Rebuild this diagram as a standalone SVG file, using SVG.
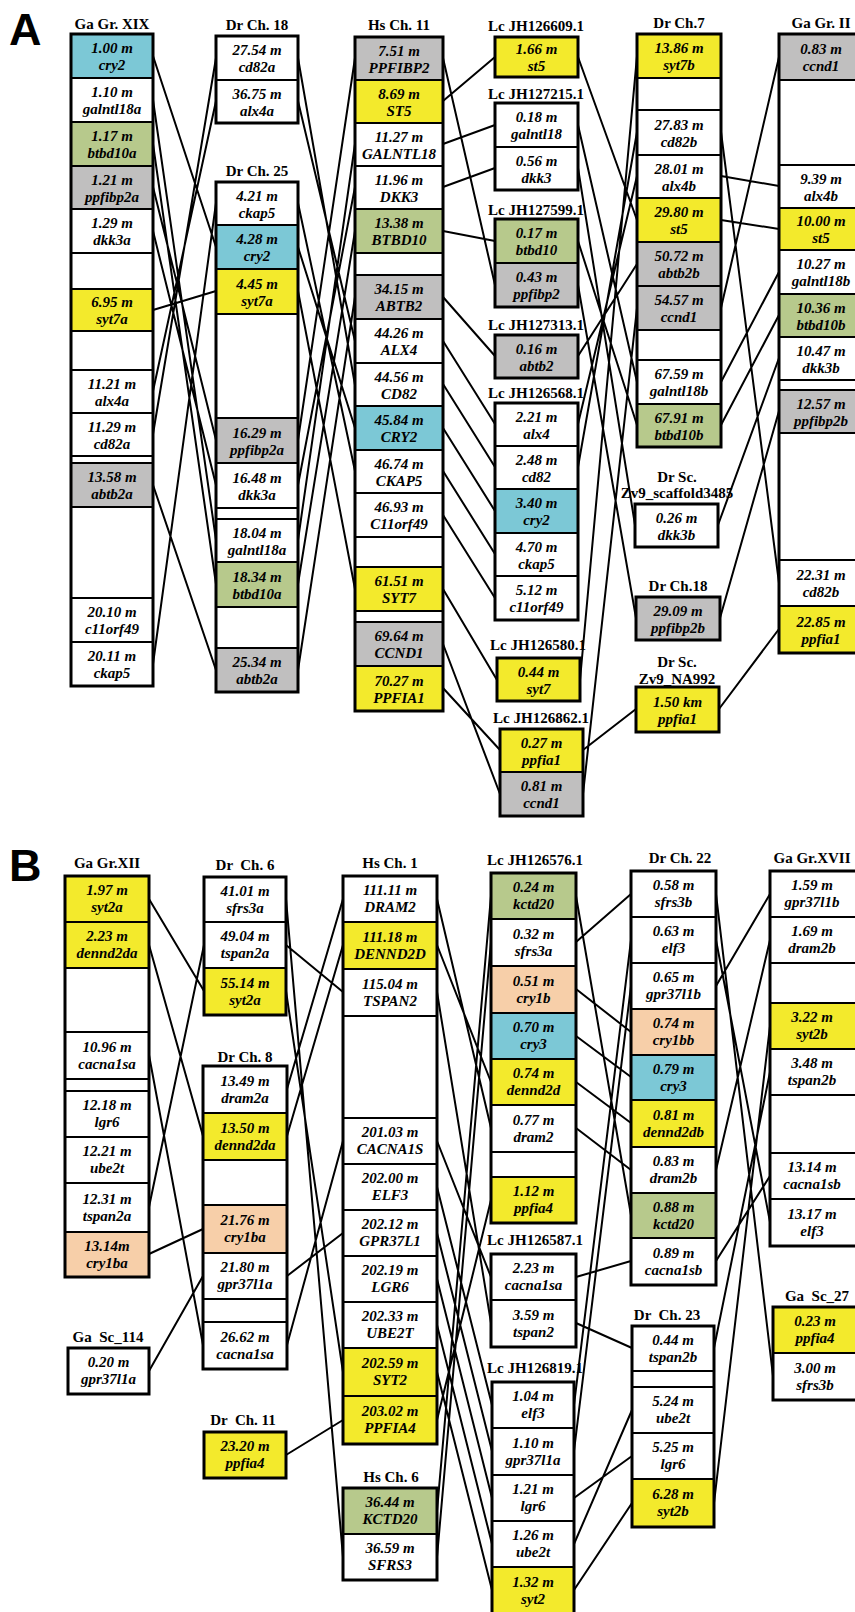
<svg xmlns="http://www.w3.org/2000/svg" width="855" height="1612" viewBox="0 0 855 1612">
<style>
rect{stroke:#000;stroke-width:2}
rect.bg{fill:#fff;stroke:none}
.w{fill:#fff}.y{fill:#F3EA2C}.c{fill:#7CC8D6}.g{fill:#B7C98C}.s{fill:#C0BFBF}.p{fill:#F7CFA9}
.o{fill:none;stroke:#000;stroke-width:3}
.t{font-family:"Liberation Serif",serif;font-weight:bold;font-style:italic;font-size:15px;text-anchor:middle}
.h{font-family:"Liberation Serif",serif;font-weight:bold;font-size:15px;text-anchor:middle;white-space:pre}
.L{font-family:"Liberation Sans",Arial,sans-serif;font-weight:bold;font-size:45px}
#conn path{fill:none;stroke:#000;stroke-width:2}
</style>
<rect class="bg" x="0" y="0" width="855" height="1612"/>
<text class="L" x="9" y="45">A</text>
<text class="L" x="9" y="881">B</text>

<g id="conn">
<path d="M153 56L216 247M153 100L216 540M153 144L216 584M153 187L216 440M153 231L216 485M153 310L216 291M153 391L216 101M153 434L216 58M153 485L216 670M153 664L216 203
M298 58L355 385M298 101L355 341M298 203L355 471M298 247L355 428M298 291L355 589M298 440L355 58M298 485L355 187M298 540L355 144M298 584L355 231M298 670L355 297
M443 58L495 285M443 101L495 57M443 144L495 125M443 187L495 168M443 231L495 241M443 297L495 356M443 341L495 424M443 384L495 467M443 428L495 511M443 471L495 554M443 515L495 598M443 589L497 680M443 644L500 794M443 688L500 750
M578 57L637 220M578 125L637 382M578 168L635 525M578 241L637 425M578 285L636 618M578 356L637 264M578 424L637 176M578 467L637 132M580 680L637 56M583 750L636 709M583 794L637 308
M721 308L779 57M721 176L779 186M721 220L779 229M721 382L779 272M721 425L779 315M721 132L779 583M718 525L779 358M720 618L779 411M719 709L779 629"/>
<path d="M149 899L204 991M149 945L203 1136M149 1055L203 1345M149 1207L204 945M149 1254L203 1229M149 1371L203 1276
M286 899L343 1557M286 945L343 992M286 991L343 1372M287 1089L343 899M287 1136L343 945M287 1276L343 1233M287 1345L343 1141M286 1455L343 1420
M437 899L491 1128M437 945L491 1082M437 992L491 1323M437 1141L491 1277M437 1187L492 1405M437 1233L492 1451M437 1279L492 1498M437 1325L492 1544M437 1372L492 1590M437 1420L491 1200M437 1511L491 896M437 1557L491 942
M576 896L631 1215M576 942L631 894M576 989L631 1032M576 1036L631 1077M576 1082L631 1123M576 1128L631 1170M576 1277L631 1261M576 1323L632 1348M574 1405L631 940M574 1451L631 986M574 1498L632 1456M574 1544L632 1410M574 1590L632 1503
M716 894L773 1376M716 940L770 1222M716 986L770 894M716 1170L770 940M716 1261L770 1176M714 1348L770 1072M714 1503L770 1026"/>
</g>

<!-- Panel A -->
<g id="ga-gr-xix">
<text class="h" x="112" y="29">Ga Gr. XIX</text>
<rect class="c" x="71" y="34" width="82" height="44"/><text class="t" x="112" y="53">1.00 m<tspan x="112" dy="17">cry2</tspan></text>
<rect class="w" x="71" y="78" width="82" height="44"/><text class="t" x="112" y="97">1.10 m<tspan x="112" dy="17">galntl18a</tspan></text>
<rect class="g" x="71" y="122" width="82" height="44"/><text class="t" x="112" y="141">1.17 m<tspan x="112" dy="17">btbd10a</tspan></text>
<rect class="s" x="71" y="166" width="82" height="43"/><text class="t" x="112" y="184.5">1.21 m<tspan x="112" dy="17">ppfibp2a</tspan></text>
<rect class="w" x="71" y="209" width="82" height="44"/><text class="t" x="112" y="228">1.29 m<tspan x="112" dy="17">dkk3a</tspan></text>
<rect class="w" x="71" y="253" width="82" height="36"/>
<rect class="y" x="71" y="289" width="82" height="42"/><text class="t" x="112" y="307">6.95 m<tspan x="112" dy="17">syt7a</tspan></text>
<rect class="w" x="71" y="331" width="82" height="39"/>
<rect class="w" x="71" y="370" width="82" height="43"/><text class="t" x="112" y="388.5">11.21 m<tspan x="112" dy="17">alx4a</tspan></text>
<rect class="w" x="71" y="413" width="82" height="43"/><text class="t" x="112" y="431.5">11.29 m<tspan x="112" dy="17">cd82a</tspan></text>
<rect class="w" x="71" y="456" width="82" height="7"/>
<rect class="s" x="71" y="463" width="82" height="44"/><text class="t" x="112" y="482">13.58 m<tspan x="112" dy="17">abtb2a</tspan></text>
<rect class="w" x="71" y="507" width="82" height="91"/>
<rect class="w" x="71" y="598" width="82" height="44"/><text class="t" x="112" y="617">20.10 m<tspan x="112" dy="17">c11orf49</tspan></text>
<rect class="w" x="71" y="642" width="82" height="44"/><text class="t" x="112" y="661">20.11 m<tspan x="112" dy="17">ckap5</tspan></text>
<rect class="o" x="71" y="34" width="82" height="652"/>
</g>

<g id="dr-ch-18">
<text class="h" x="257" y="30">Dr Ch. 18</text>
<rect class="w" x="216" y="36" width="82" height="44"/><text class="t" x="257" y="55">27.54 m<tspan x="257" dy="17">cd82a</tspan></text>
<rect class="w" x="216" y="80" width="82" height="43"/><text class="t" x="257" y="98.5">36.75 m<tspan x="257" dy="17">alx4a</tspan></text>
<rect class="o" x="216" y="36" width="82" height="87"/>
</g>

<g id="dr-ch-25">
<text class="h" x="257" y="176">Dr Ch. 25</text>
<rect class="w" x="216" y="182" width="82" height="43"/><text class="t" x="257" y="200.5">4.21 m<tspan x="257" dy="17">ckap5</tspan></text>
<rect class="c" x="216" y="225" width="82" height="44"/><text class="t" x="257" y="244">4.28 m<tspan x="257" dy="17">cry2</tspan></text>
<rect class="y" x="216" y="269" width="82" height="45"/><text class="t" x="257" y="288.5">4.45 m<tspan x="257" dy="17">syt7a</tspan></text>
<rect class="w" x="216" y="314" width="82" height="104"/>
<rect class="s" x="216" y="418" width="82" height="45"/><text class="t" x="257" y="437.5">16.29 m<tspan x="257" dy="17">ppfibp2a</tspan></text>
<rect class="w" x="216" y="463" width="82" height="45"/><text class="t" x="257" y="482.5">16.48 m<tspan x="257" dy="17">dkk3a</tspan></text>
<rect class="w" x="216" y="508" width="82" height="11"/>
<rect class="w" x="216" y="519" width="82" height="43"/><text class="t" x="257" y="537.5">18.04 m<tspan x="257" dy="17">galntl18a</tspan></text>
<rect class="g" x="216" y="562" width="82" height="45"/><text class="t" x="257" y="581.5">18.34 m<tspan x="257" dy="17">btbd10a</tspan></text>
<rect class="w" x="216" y="607" width="82" height="41"/>
<rect class="s" x="216" y="648" width="82" height="44"/><text class="t" x="257" y="667">25.34 m<tspan x="257" dy="17">abtb2a</tspan></text>
<rect class="o" x="216" y="182" width="82" height="510"/>
</g>

<g id="hs-ch-11">
<text class="h" x="399" y="30">Hs Ch. 11</text>
<rect class="s" x="355" y="37" width="88" height="43"/><text class="t" x="399" y="55.5">7.51 m<tspan x="399" dy="17">PPFIBP2</tspan></text>
<rect class="y" x="355" y="80" width="88" height="43"/><text class="t" x="399" y="98.5">8.69 m<tspan x="399" dy="17">ST5</tspan></text>
<rect class="w" x="355" y="123" width="88" height="43"/><text class="t" x="399" y="141.5">11.27 m<tspan x="399" dy="17">GALNTL18</tspan></text>
<rect class="w" x="355" y="166" width="88" height="43"/><text class="t" x="399" y="184.5">11.96 m<tspan x="399" dy="17">DKK3</tspan></text>
<rect class="g" x="355" y="209" width="88" height="44"/><text class="t" x="399" y="228">13.38 m<tspan x="399" dy="17">BTBD10</tspan></text>
<rect class="w" x="355" y="253" width="88" height="22"/>
<rect class="s" x="355" y="275" width="88" height="44"/><text class="t" x="399" y="294">34.15 m<tspan x="399" dy="17">ABTB2</tspan></text>
<rect class="w" x="355" y="319" width="88" height="44"/><text class="t" x="399" y="338">44.26 m<tspan x="399" dy="17">ALX4</tspan></text>
<rect class="w" x="355" y="363" width="88" height="43"/><text class="t" x="399" y="381.5">44.56 m<tspan x="399" dy="17">CD82</tspan></text>
<rect class="c" x="355" y="406" width="88" height="44"/><text class="t" x="399" y="425">45.84 m<tspan x="399" dy="17">CRY2</tspan></text>
<rect class="w" x="355" y="450" width="88" height="43"/><text class="t" x="399" y="468.5">46.74 m<tspan x="399" dy="17">CKAP5</tspan></text>
<rect class="w" x="355" y="493" width="88" height="44"/><text class="t" x="399" y="512">46.93 m<tspan x="399" dy="17">C11orf49</tspan></text>
<rect class="w" x="355" y="537" width="88" height="30"/>
<rect class="y" x="355" y="567" width="88" height="44"/><text class="t" x="399" y="586">61.51 m<tspan x="399" dy="17">SYT7</tspan></text>
<rect class="w" x="355" y="611" width="88" height="11"/>
<rect class="s" x="355" y="622" width="88" height="44"/><text class="t" x="399" y="641">69.64 m<tspan x="399" dy="17">CCND1</tspan></text>
<rect class="y" x="355" y="666" width="88" height="45"/><text class="t" x="399" y="685.5">70.27 m<tspan x="399" dy="17">PPFIA1</tspan></text>
<rect class="o" x="355" y="37" width="88" height="674"/>
</g>

<g id="lc-jh126609">
<text class="h" x="536" y="31">Lc JH126609.1</text>
<rect class="y" x="495" y="37" width="83" height="40"/><text class="t" x="536.5" y="54">1.66 m<tspan x="536.5" dy="17">st5</tspan></text>
<rect class="o" x="495" y="37" width="83" height="40"/>
</g>
<g id="lc-jh127215">
<text class="h" x="536" y="99">Lc JH127215.1</text>
<rect class="w" x="495" y="103" width="83" height="44"/><text class="t" x="536.5" y="122">0.18 m<tspan x="536.5" dy="17">galntl18</tspan></text>
<rect class="w" x="495" y="147" width="83" height="43"/><text class="t" x="536.5" y="165.5">0.56 m<tspan x="536.5" dy="17">dkk3</tspan></text>
<rect class="o" x="495" y="103" width="83" height="87"/>
</g>
<g id="lc-jh127599">
<text class="h" x="536" y="215">Lc JH127599.1</text>
<rect class="g" x="495" y="219" width="83" height="44"/><text class="t" x="536.5" y="238">0.17 m<tspan x="536.5" dy="17">btbd10</tspan></text>
<rect class="s" x="495" y="263" width="83" height="44"/><text class="t" x="536.5" y="282">0.43 m<tspan x="536.5" dy="17">ppfibp2</tspan></text>
<rect class="o" x="495" y="219" width="83" height="88"/>
</g>
<g id="lc-jh127313">
<text class="h" x="536" y="330">Lc JH127313.1</text>
<rect class="s" x="495" y="335" width="83" height="43"/><text class="t" x="536.5" y="353.5">0.16 m<tspan x="536.5" dy="17">abtb2</tspan></text>
<rect class="o" x="495" y="335" width="83" height="43"/>
</g>
<g id="lc-jh126568">
<text class="h" x="536" y="398">Lc JH126568.1</text>
<rect class="w" x="495" y="403" width="83" height="43"/><text class="t" x="536.5" y="421.5">2.21 m<tspan x="536.5" dy="17">alx4</tspan></text>
<rect class="w" x="495" y="446" width="83" height="43"/><text class="t" x="536.5" y="464.5">2.48 m<tspan x="536.5" dy="17">cd82</tspan></text>
<rect class="c" x="495" y="489" width="83" height="44"/><text class="t" x="536.5" y="508">3.40 m<tspan x="536.5" dy="17">cry2</tspan></text>
<rect class="w" x="495" y="533" width="83" height="43"/><text class="t" x="536.5" y="551.5">4.70 m<tspan x="536.5" dy="17">ckap5</tspan></text>
<rect class="w" x="495" y="576" width="83" height="44"/><text class="t" x="536.5" y="595">5.12 m<tspan x="536.5" dy="17">c11orf49</tspan></text>
<rect class="o" x="495" y="403" width="83" height="217"/>
</g>
<g id="lc-jh126580">
<text class="h" x="538" y="650">Lc JH126580.1</text>
<rect class="y" x="497" y="658" width="83" height="43"/><text class="t" x="538.5" y="676.5">0.44 m<tspan x="538.5" dy="17">syt7</tspan></text>
<rect class="o" x="497" y="658" width="83" height="43"/>
</g>
<g id="lc-jh126862">
<text class="h" x="541" y="723">Lc JH126862.1</text>
<rect class="y" x="500" y="729" width="83" height="43"/><text class="t" x="541.5" y="747.5">0.27 m<tspan x="541.5" dy="17">ppfia1</tspan></text>
<rect class="s" x="500" y="772" width="83" height="44"/><text class="t" x="541.5" y="791">0.81 m<tspan x="541.5" dy="17">ccnd1</tspan></text>
<rect class="o" x="500" y="729" width="83" height="87"/>
</g>

<g id="dr-ch-7">
<text class="h" x="679" y="28">Dr Ch.7</text>
<rect class="y" x="637" y="34" width="84" height="44"/><text class="t" x="679" y="53">13.86 m<tspan x="679" dy="17">syt7b</tspan></text>
<rect class="w" x="637" y="78" width="84" height="32"/>
<rect class="w" x="637" y="110" width="84" height="45"/><text class="t" x="679" y="129.5">27.83 m<tspan x="679" dy="17">cd82b</tspan></text>
<rect class="w" x="637" y="155" width="84" height="43"/><text class="t" x="679" y="173.5">28.01 m<tspan x="679" dy="17">alx4b</tspan></text>
<rect class="y" x="637" y="198" width="84" height="44"/><text class="t" x="679" y="217">29.80 m<tspan x="679" dy="17">st5</tspan></text>
<rect class="s" x="637" y="242" width="84" height="44"/><text class="t" x="679" y="261">50.72 m<tspan x="679" dy="17">abtb2b</tspan></text>
<rect class="s" x="637" y="286" width="84" height="44"/><text class="t" x="679" y="305">54.57 m<tspan x="679" dy="17">ccnd1</tspan></text>
<rect class="w" x="637" y="330" width="84" height="30"/>
<rect class="w" x="637" y="360" width="84" height="44"/><text class="t" x="679" y="379">67.59 m<tspan x="679" dy="17">galntl18b</tspan></text>
<rect class="g" x="637" y="404" width="84" height="43"/><text class="t" x="679" y="422.5">67.91 m<tspan x="679" dy="17">btbd10b</tspan></text>
<rect class="o" x="637" y="34" width="84" height="413"/>
</g>

<g id="dr-sc-3485">
<text class="h" x="677" y="482">Dr Sc.</text>
<text class="h" x="677" y="498">Zv9_scaffold3485</text>
<rect class="w" x="635" y="504" width="83" height="43"/><text class="t" x="676.5" y="522.5">0.26 m<tspan x="676.5" dy="17">dkk3b</tspan></text>
<rect class="o" x="635" y="504" width="83" height="43"/>
</g>
<g id="dr-ch-18b">
<text class="h" x="678" y="591">Dr Ch.18</text>
<rect class="s" x="636" y="597" width="84" height="43"/><text class="t" x="678" y="615.5">29.09 m<tspan x="678" dy="17">ppfibp2b</tspan></text>
<rect class="o" x="636" y="597" width="84" height="43"/>
</g>
<g id="dr-sc-na992">
<text class="h" x="677" y="667">Dr Sc.</text>
<text class="h" x="677" y="684">Zv9_NA992</text>
<rect class="y" x="636" y="687" width="83" height="45"/><text class="t" x="677.5" y="706.5">1.50 km<tspan x="677.5" dy="17">ppfia1</tspan></text>
<rect class="o" x="636" y="687" width="83" height="45"/>
</g>

<g id="ga-gr-ii">
<text class="h" x="821" y="28">Ga Gr. II</text>
<rect class="s" x="779" y="34" width="84" height="46"/><text class="t" x="821" y="54">0.83 m<tspan x="821" dy="17">ccnd1</tspan></text>
<rect class="w" x="779" y="80" width="84" height="85"/>
<rect class="w" x="779" y="165" width="84" height="43"/><text class="t" x="821" y="183.5">9.39 m<tspan x="821" dy="17">alx4b</tspan></text>
<rect class="y" x="779" y="208" width="84" height="42"/><text class="t" x="821" y="226">10.00 m<tspan x="821" dy="17">st5</tspan></text>
<rect class="w" x="779" y="250" width="84" height="44"/><text class="t" x="821" y="269">10.27 m<tspan x="821" dy="17">galntl18b</tspan></text>
<rect class="g" x="779" y="294" width="84" height="43"/><text class="t" x="821" y="312.5">10.36 m<tspan x="821" dy="17">btbd10b</tspan></text>
<rect class="w" x="779" y="337" width="84" height="43"/><text class="t" x="821" y="355.5">10.47 m<tspan x="821" dy="17">dkk3b</tspan></text>
<rect class="w" x="779" y="380" width="84" height="10"/>
<rect class="s" x="779" y="390" width="84" height="43"/><text class="t" x="821" y="408.5">12.57 m<tspan x="821" dy="17">ppfibp2b</tspan></text>
<rect class="w" x="779" y="433" width="84" height="127"/>
<rect class="w" x="779" y="560" width="84" height="46"/><text class="t" x="821" y="580">22.31 m<tspan x="821" dy="17">cd82b</tspan></text>
<rect class="y" x="779" y="606" width="84" height="47"/><text class="t" x="821" y="626.5">22.85 m<tspan x="821" dy="17">ppfia1</tspan></text>
<rect class="o" x="779" y="34" width="84" height="619"/>
</g>

<!-- Panel B -->
<g id="ga-gr-xii">
<text class="h" x="107" y="868">Ga Gr.XII</text>
<rect class="y" x="65" y="876" width="84" height="46"/><text class="t" x="107" y="895">1.97 m<tspan x="107" dy="17">syt2a</tspan></text>
<rect class="y" x="65" y="922" width="84" height="46"/><text class="t" x="107" y="941">2.23 m<tspan x="107" dy="17">dennd2da</tspan></text>
<rect class="w" x="65" y="968" width="84" height="64"/>
<rect class="w" x="65" y="1032" width="84" height="47"/><text class="t" x="107" y="1051.5">10.96 m<tspan x="107" dy="17">cacna1sa</tspan></text>
<rect class="w" x="65" y="1079" width="84" height="12"/>
<rect class="w" x="65" y="1091" width="84" height="46"/><text class="t" x="107" y="1110">12.18 m<tspan x="107" dy="17">lgr6</tspan></text>
<rect class="w" x="65" y="1137" width="84" height="46"/><text class="t" x="107" y="1156">12.21 m<tspan x="107" dy="17">ube2t</tspan></text>
<rect class="w" x="65" y="1183" width="84" height="49"/><text class="t" x="107" y="1203.5">12.31 m<tspan x="107" dy="17">tspan2a</tspan></text>
<rect class="p" x="65" y="1232" width="84" height="45"/><text class="t" x="107" y="1250.5">13.14m<tspan x="107" dy="17">cry1ba</tspan></text>
<rect class="o" x="65" y="876" width="84" height="401"/>
</g>
<g id="ga-sc-114">
<text class="h" x="108" y="1342">Ga  Sc_114</text>
<rect class="w" x="68" y="1348" width="81" height="46"/><text class="t" x="108.5" y="1367">0.20 m<tspan x="108.5" dy="17">gpr37l1a</tspan></text>
<rect class="o" x="68" y="1348" width="81" height="46"/>
</g>

<g id="dr-ch-6">
<text class="h" x="245" y="870">Dr  Ch. 6</text>
<rect class="w" x="204" y="877" width="82" height="45"/><text class="t" x="245" y="895.5">41.01 m<tspan x="245" dy="17">sfrs3a</tspan></text>
<rect class="w" x="204" y="922" width="82" height="46"/><text class="t" x="245" y="941">49.04 m<tspan x="245" dy="17">tspan2a</tspan></text>
<rect class="y" x="204" y="968" width="82" height="47"/><text class="t" x="245" y="987.5">55.14 m<tspan x="245" dy="17">syt2a</tspan></text>
<rect class="o" x="204" y="877" width="82" height="138"/>
</g>
<g id="dr-ch-8">
<text class="h" x="245" y="1062">Dr Ch. 8</text>
<rect class="w" x="203" y="1066" width="84" height="47"/><text class="t" x="245" y="1085.5">13.49 m<tspan x="245" dy="17">dram2a</tspan></text>
<rect class="y" x="203" y="1113" width="84" height="47"/><text class="t" x="245" y="1132.5">13.50 m<tspan x="245" dy="17">dennd2da</tspan></text>
<rect class="w" x="203" y="1160" width="84" height="45"/>
<rect class="p" x="203" y="1205" width="84" height="48"/><text class="t" x="245" y="1225">21.76 m<tspan x="245" dy="17">cry1ba</tspan></text>
<rect class="w" x="203" y="1253" width="84" height="46"/><text class="t" x="245" y="1272">21.80 m<tspan x="245" dy="17">gpr37l1a</tspan></text>
<rect class="w" x="203" y="1299" width="84" height="23"/>
<rect class="w" x="203" y="1322" width="84" height="47"/><text class="t" x="245" y="1341.5">26.62 m<tspan x="245" dy="17">cacna1sa</tspan></text>
<rect class="o" x="203" y="1066" width="84" height="303"/>
</g>
<g id="dr-ch-11">
<text class="h" x="243" y="1425">Dr  Ch. 11</text>
<rect class="y" x="204" y="1432" width="82" height="46"/><text class="t" x="245" y="1451">23.20 m<tspan x="245" dy="17">ppfia4</tspan></text>
<rect class="o" x="204" y="1432" width="82" height="46"/>
</g>

<g id="hs-ch-1">
<text class="h" x="390" y="868">Hs Ch. 1</text>
<rect class="w" x="343" y="876" width="94" height="46"/><text class="t" x="390" y="895">111.11 m<tspan x="390" dy="17">DRAM2</tspan></text>
<rect class="y" x="343" y="922" width="94" height="47"/><text class="t" x="390" y="941.5">111.18 m<tspan x="390" dy="17">DENND2D</tspan></text>
<rect class="w" x="343" y="969" width="94" height="47"/><text class="t" x="390" y="988.5">115.04 m<tspan x="390" dy="17">TSPAN2</tspan></text>
<rect class="w" x="343" y="1016" width="94" height="102"/>
<rect class="w" x="343" y="1118" width="94" height="46"/><text class="t" x="390" y="1137">201.03 m<tspan x="390" dy="17">CACNA1S</tspan></text>
<rect class="w" x="343" y="1164" width="94" height="46"/><text class="t" x="390" y="1183">202.00 m<tspan x="390" dy="17">ELF3</tspan></text>
<rect class="w" x="343" y="1210" width="94" height="46"/><text class="t" x="390" y="1229">202.12 m<tspan x="390" dy="17">GPR37L1</tspan></text>
<rect class="w" x="343" y="1256" width="94" height="46"/><text class="t" x="390" y="1275">202.19 m<tspan x="390" dy="17">LGR6</tspan></text>
<rect class="w" x="343" y="1302" width="94" height="46"/><text class="t" x="390" y="1321">202.33 m<tspan x="390" dy="17">UBE2T</tspan></text>
<rect class="y" x="343" y="1348" width="94" height="48"/><text class="t" x="390" y="1368">202.59 m<tspan x="390" dy="17">SYT2</tspan></text>
<rect class="y" x="343" y="1396" width="94" height="48"/><text class="t" x="390" y="1416">203.02 m<tspan x="390" dy="17">PPFIA4</tspan></text>
<rect class="o" x="343" y="876" width="94" height="568"/>
</g>
<g id="hs-ch-6">
<text class="h" x="391" y="1482">Hs Ch. 6</text>
<rect class="g" x="343" y="1488" width="94" height="46"/><text class="t" x="390" y="1507">36.44 m<tspan x="390" dy="17">KCTD20</tspan></text>
<rect class="w" x="343" y="1534" width="94" height="46"/><text class="t" x="390" y="1553">36.59 m<tspan x="390" dy="17">SFRS3</tspan></text>
<rect class="o" x="343" y="1488" width="94" height="92"/>
</g>

<g id="lc-jh126576">
<text class="h" x="535" y="865">Lc JH126576.1</text>
<rect class="g" x="491" y="873" width="85" height="46"/><text class="t" x="533.5" y="892">0.24 m<tspan x="533.5" dy="17">kctd20</tspan></text>
<rect class="w" x="491" y="919" width="85" height="47"/><text class="t" x="533.5" y="938.5">0.32 m<tspan x="533.5" dy="17">sfrs3a</tspan></text>
<rect class="p" x="491" y="966" width="85" height="47"/><text class="t" x="533.5" y="985.5">0.51 m<tspan x="533.5" dy="17">cry1b</tspan></text>
<rect class="c" x="491" y="1013" width="85" height="46"/><text class="t" x="533.5" y="1032">0.70 m<tspan x="533.5" dy="17">cry3</tspan></text>
<rect class="y" x="491" y="1059" width="85" height="46"/><text class="t" x="533.5" y="1078">0.74 m<tspan x="533.5" dy="17">dennd2d</tspan></text>
<rect class="w" x="491" y="1105" width="85" height="47"/><text class="t" x="533.5" y="1124.5">0.77 m<tspan x="533.5" dy="17">dram2</tspan></text>
<rect class="w" x="491" y="1152" width="85" height="25"/>
<rect class="y" x="491" y="1177" width="85" height="46"/><text class="t" x="533.5" y="1196">1.12 m<tspan x="533.5" dy="17">ppfia4</tspan></text>
<rect class="o" x="491" y="873" width="85" height="350"/>
</g>
<g id="lc-jh126587">
<text class="h" x="535" y="1245">Lc JH126587.1</text>
<rect class="w" x="491" y="1254" width="85" height="46"/><text class="t" x="533.5" y="1273">2.23 m<tspan x="533.5" dy="17">cacna1sa</tspan></text>
<rect class="w" x="491" y="1300" width="85" height="47"/><text class="t" x="533.5" y="1319.5">3.59 m<tspan x="533.5" dy="17">tspan2</tspan></text>
<rect class="o" x="491" y="1254" width="85" height="93"/>
</g>
<g id="lc-jh126819">
<text class="h" x="535" y="1373">Lc JH126819.1</text>
<rect class="w" x="492" y="1382" width="82" height="46"/><text class="t" x="533" y="1401">1.04 m<tspan x="533" dy="17">elf3</tspan></text>
<rect class="w" x="492" y="1428" width="82" height="47"/><text class="t" x="533" y="1447.5">1.10 m<tspan x="533" dy="17">gpr37l1a</tspan></text>
<rect class="w" x="492" y="1475" width="82" height="46"/><text class="t" x="533" y="1494">1.21 m<tspan x="533" dy="17">lgr6</tspan></text>
<rect class="w" x="492" y="1521" width="82" height="46"/><text class="t" x="533" y="1540">1.26 m<tspan x="533" dy="17">ube2t</tspan></text>
<rect class="y" x="492" y="1567" width="82" height="47"/><text class="t" x="533" y="1587">1.32 m<tspan x="533" dy="17">syt2</tspan></text>
<rect class="o" x="492" y="1382" width="82" height="232"/>
</g>

<g id="dr-ch-22">
<text class="h" x="680" y="863">Dr Ch. 22</text>
<rect class="w" x="631" y="871" width="85" height="46"/><text class="t" x="673.5" y="890">0.58 m<tspan x="673.5" dy="17">sfrs3b</tspan></text>
<rect class="w" x="631" y="917" width="85" height="46"/><text class="t" x="673.5" y="936">0.63 m<tspan x="673.5" dy="17">elf3</tspan></text>
<rect class="w" x="631" y="963" width="85" height="46"/><text class="t" x="673.5" y="982">0.65 m<tspan x="673.5" dy="17">gpr37l1b</tspan></text>
<rect class="p" x="631" y="1009" width="85" height="46"/><text class="t" x="673.5" y="1028">0.74 m<tspan x="673.5" dy="17">cry1bb</tspan></text>
<rect class="c" x="631" y="1055" width="85" height="45"/><text class="t" x="673.5" y="1073.5">0.79 m<tspan x="673.5" dy="17">cry3</tspan></text>
<rect class="y" x="631" y="1100" width="85" height="47"/><text class="t" x="673.5" y="1119.5">0.81 m<tspan x="673.5" dy="17">dennd2db</tspan></text>
<rect class="w" x="631" y="1147" width="85" height="46"/><text class="t" x="673.5" y="1166">0.83 m<tspan x="673.5" dy="17">dram2b</tspan></text>
<rect class="g" x="631" y="1193" width="85" height="45"/><text class="t" x="673.5" y="1211.5">0.88 m<tspan x="673.5" dy="17">kctd20</tspan></text>
<rect class="w" x="631" y="1238" width="85" height="47"/><text class="t" x="673.5" y="1257.5">0.89 m<tspan x="673.5" dy="17">cacna1sb</tspan></text>
<rect class="o" x="631" y="871" width="85" height="414"/>
</g>
<g id="dr-ch-23">
<text class="h" x="667" y="1320">Dr  Ch. 23</text>
<rect class="w" x="632" y="1326" width="82" height="45"/><text class="t" x="673" y="1344.5">0.44 m<tspan x="673" dy="17">tspan2b</tspan></text>
<rect class="w" x="632" y="1371" width="82" height="16"/>
<rect class="w" x="632" y="1387" width="82" height="46"/><text class="t" x="673" y="1406">5.24 m<tspan x="673" dy="17">ube2t</tspan></text>
<rect class="w" x="632" y="1433" width="82" height="46"/><text class="t" x="673" y="1452">5.25 m<tspan x="673" dy="17">lgr6</tspan></text>
<rect class="y" x="632" y="1479" width="82" height="48"/><text class="t" x="673" y="1499">6.28 m<tspan x="673" dy="17">syt2b</tspan></text>
<rect class="o" x="632" y="1326" width="82" height="201"/>
</g>

<g id="ga-gr-xvii">
<text class="h" x="812" y="863">Ga Gr.XVII</text>
<rect class="w" x="770" y="871" width="88" height="46"/><text class="t" x="812" y="890">1.59 m<tspan x="812" dy="17">gpr37l1b</tspan></text>
<rect class="w" x="770" y="917" width="88" height="46"/><text class="t" x="812" y="936">1.69 m<tspan x="812" dy="17">dram2b</tspan></text>
<rect class="w" x="770" y="963" width="88" height="40"/>
<rect class="y" x="770" y="1003" width="88" height="46"/><text class="t" x="812" y="1022">3.22 m<tspan x="812" dy="17">syt2b</tspan></text>
<rect class="w" x="770" y="1049" width="88" height="46"/><text class="t" x="812" y="1068">3.48 m<tspan x="812" dy="17">tspan2b</tspan></text>
<rect class="w" x="770" y="1095" width="88" height="58"/>
<rect class="w" x="770" y="1153" width="88" height="46"/><text class="t" x="812" y="1172">13.14 m<tspan x="812" dy="17">cacna1sb</tspan></text>
<rect class="w" x="770" y="1199" width="88" height="47"/><text class="t" x="812" y="1218.5">13.17 m<tspan x="812" dy="17">elf3</tspan></text>
<rect class="o" x="770" y="871" width="88" height="375"/>
</g>
<g id="ga-sc-27">
<text class="h" x="817" y="1301">Ga  Sc_27</text>
<rect class="y" x="773" y="1307" width="84" height="46"/><text class="t" x="815" y="1326">0.23 m<tspan x="815" dy="17">ppfia4</tspan></text>
<rect class="w" x="773" y="1353" width="84" height="47"/><text class="t" x="815" y="1372.5">3.00 m<tspan x="815" dy="17">sfrs3b</tspan></text>
<rect class="o" x="773" y="1307" width="84" height="93"/>
</g>
</svg>
